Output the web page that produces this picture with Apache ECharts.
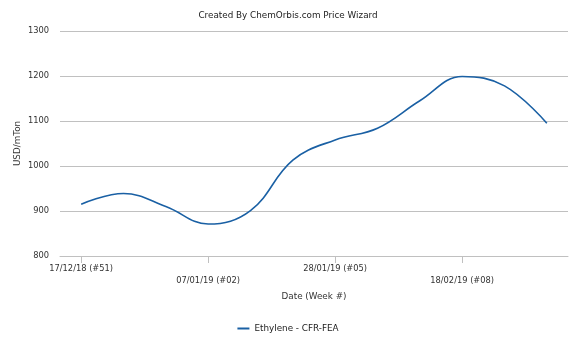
<!DOCTYPE html>
<html>
<head>
<meta charset="utf-8">
<script src="https://cdn.jsdelivr.net/npm/echarts@6/dist/echarts.min.js"></script>
<style>
html,body{margin:0;padding:0;background:#fff;}
#chart{width:576px;height:345px;}
</style>
</head>
<body>
<div id="chart"></div>
<script>
// Weekly ethylene prices, CFR Far East Asia
var weeks = ['17/12/18 (#51)', '24/12/18 (#52)', '31/12/18 (#01)', '07/01/19 (#02)',
             '14/01/19 (#03)', '21/01/19 (#04)', '28/01/19 (#05)', '04/02/19 (#06)',
             '11/02/19 (#07)', '18/02/19 (#08)', '25/02/19 (#09)', '04/03/19 (#10)'];
var ethylene = [915, 939, 910, 871, 901, 1013, 1058, 1084, 1145, 1199, 1178, 1095];
var seriesName = 'Ethylene - CFR-FEA';
var yTicks = {min: 800, max: 1300, step: 100};

var font = 'DejaVu Sans';
var chart = echarts.init(document.getElementById('chart'), null, {renderer: 'canvas'});
chart.setOption({
  animation: false,
  backgroundColor: '#ffffff',
  textStyle: {fontFamily: font},
  title: {
    text: 'Created By ChemOrbis.com Price Wizard',
    left: 'center', top: 6,
    textStyle: {fontFamily: font, fontSize: 8.8, fontWeight: 'normal', color: '#222'}
  },
  legend: {
    bottom: 7, left: 'center',
    itemWidth: 12, itemHeight: 2, itemGap: 10,
    icon: 'rect',
    textStyle: {fontFamily: font, fontSize: 8.8, color: '#222'},
    data: [seriesName]
  },
  grid: {left: 60, right: 8, top: 31, bottom: 89},
  xAxis: {
    type: 'category',
    data: weeks,
    boundaryGap: true,
    name: 'Date (Week #)',
    nameLocation: 'middle',
    nameGap: 36,
    nameMoveOverlap: false,
    nameTextStyle: {fontFamily: font, fontSize: 8.8, color: '#333'},
    axisLine: {lineStyle: {color: '#c0c0c0'}},
    axisTick: {show: true, interval: 2, alignWithLabel: true, length: 7, lineStyle: {color: '#c0c0c0'}},
    axisLabel: {
      interval: 2, margin: 7,
      fontFamily: font, fontSize: 8.3, color: '#333', lineHeight: 12,
      formatter: function (v, i) { return (i / 3) % 2 === 1 ? '\n' + v : v; }
    }
  },
  yAxis: {
    type: 'value',
    min: yTicks.min, max: yTicks.max, interval: yTicks.step,
    name: 'USD/mTon',
    nameLocation: 'middle',
    nameGap: 38,
    nameMoveOverlap: false,
    nameRotate: 90,
    nameTextStyle: {fontFamily: font, fontSize: 8.8, color: '#333'},
    axisLine: {show: false},
    axisTick: {show: false},
    axisLabel: {
      margin: 11, fontFamily: font, fontSize: 8.3, color: '#333',
      formatter: function (v) { return String(v); }
    },
    splitLine: {lineStyle: {color: '#c0c0c0', width: 1}}
  },
  series: [{
    name: seriesName,
    type: 'line',
    data: ethylene,
    smooth: 0.4,
    symbol: 'none',
    lineStyle: {color: '#1a60a4', width: 1.6},
    itemStyle: {color: '#1a60a4'}
  }]
});
</script>
</body>
</html>
